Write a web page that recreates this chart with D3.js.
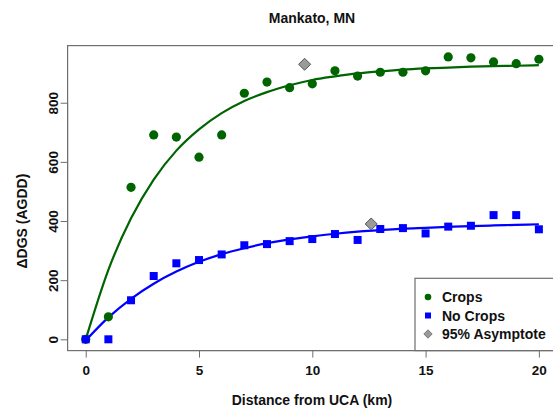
<!DOCTYPE html>
<html>
<head>
<meta charset="utf-8">
<script src="https://cdn.jsdelivr.net/npm/d3@7"></script>
<style>
  html, body { margin: 0; padding: 0; background: #fff; }
  svg { display: block; }
  text { font-family: "Liberation Sans", Arial, Helvetica, sans-serif; font-weight: bold; fill: #111; }
</style>
</head>
<body>
<svg id="chart" width="553" height="409"></svg>
<script>
// Distance from the urban core (km)
const distances = [0,1,2,3,4,5,6,7,8,9,10,11,12,13,14,15,16,17,18,19,20];

// Observed change in growing season (AGDD)
const cropsValues   = [0,76,514,691,684,616,691,832,870,851,864,908,890,903,903,908,955,952,938,932,947];
const noCropsValues = [0,0,132,214,257,268,287,318,322,332,339,356,336,373,376,358,381,384,420,420,372];

// Fitted saturation curves, sampled at each km
const cropsFit   = [0,235,409,540,638,710,765,806,836,859,877,889,899,906,912,916,919,922,924,925,927];
const noCropsFit = [-4,74,137,188,229,262,288,308,325,338,348,357,364,369,374,377,380,383,385,387,389];

// 95% asymptote markers: [distance, AGDD]
const asymptotes = [[9.66, 930], [12.6, 390]];

const xTicks = [0, 5, 10, 15, 20];
const yTicks = [0, 200, 400, 600, 800];

const legendItems = ["Crops", "No Crops", "95% Asymptote"];

const green = "#006400", blue = "#0000ff", grey = "#9a9a9a", frame = "#6f6f6f";

const svg = d3.select("#chart");

// Data ranges padded by 4% on each side
const pad = (e) => { const d = (e[1] - e[0]) * 0.04; return [e[0] - d, e[1] + d]; };
const x = d3.scaleLinear().domain(pad([0, 20])).range([67.6, 557]);
const y = d3.scaleLinear().domain(pad([0, 955])).range([350.6, 45.6]);

// plot frame
svg.append("rect")
  .attr("x", x.range()[0]).attr("y", y.range()[1])
  .attr("width", x.range()[1] - x.range()[0])
  .attr("height", y.range()[0] - y.range()[1])
  .attr("fill", "none").attr("stroke", frame).attr("stroke-width", 1.2);

// x axis
const xAxis = svg.append("g").attr("transform", `translate(0,${y.range()[0]})`)
  .call(d3.axisBottom(x).tickValues(xTicks).tickSize(7).tickPadding(8).tickFormat(d3.format("d")));
xAxis.select(".domain").attr("d", `M${x(0)},0H${x(20)}`).attr("stroke", frame);
xAxis.selectAll(".tick line").attr("stroke", frame);
xAxis.selectAll(".tick text").attr("font-size", 13.5).attr("font-family", null).attr("fill", "#111");

// y axis with labels running along the axis
const yAxis = svg.append("g").attr("transform", `translate(${x.range()[0]},0)`)
  .call(d3.axisLeft(y).tickValues(yTicks).tickSize(7).tickFormat(d3.format("d")));
yAxis.select(".domain").attr("d", `M0,${y(0)}V${y(800)}`).attr("stroke", frame);
yAxis.selectAll(".tick line").attr("stroke", frame);
yAxis.selectAll(".tick text")
  .attr("font-size", 13.5).attr("font-family", null).attr("fill", "#111")
  .attr("x", null)
  .attr("text-anchor", "middle")
  .attr("transform", "translate(-14,0) rotate(-90)")
  .attr("dy", "0.35em");

// titles
svg.append("text").attr("x", 312).attr("y", 23).attr("text-anchor", "middle")
  .attr("font-size", 14).text("Mankato, MN");
svg.append("text").attr("x", 312).attr("y", 405).attr("text-anchor", "middle")
  .attr("font-size", 14).text("Distance from UCA (km)");
svg.append("text").attr("transform", `translate(27,${(y(0) + y(800)) / 2}) rotate(-90)`)
  .attr("text-anchor", "middle").attr("font-size", 14).text("\u0394DGS (AGDD)");

// fitted curves
const line = d3.line().x((d, i) => x(distances[i])).y(d => y(d)).curve(d3.curveMonotoneX);
svg.append("path").datum(cropsFit).attr("d", line)
  .attr("fill", "none").attr("stroke", green).attr("stroke-width", 2.2);
svg.append("path").datum(noCropsFit).attr("d", line)
  .attr("fill", "none").attr("stroke", blue).attr("stroke-width", 2.2);

// observations: crops first, no-crops squares drawn over them
svg.append("g").selectAll("circle").data(cropsValues).join("circle")
  .attr("cx", (d, i) => x(distances[i])).attr("cy", d => y(d))
  .attr("r", 4.6).attr("fill", green);
svg.append("g").selectAll("rect").data(noCropsValues).join("rect")
  .attr("x", (d, i) => x(distances[i]) - 4).attr("y", d => y(d) - 4)
  .attr("width", 8).attr("height", 8).attr("fill", blue);

// asymptote diamonds
const diamond = (cx, cy, h) => `M${cx},${cy - h}L${cx + h},${cy}L${cx},${cy + h}L${cx - h},${cy}Z`;
svg.append("g").selectAll("path").data(asymptotes).join("path")
  .attr("d", d => diamond(x(d[0]), y(d[1]), 6))
  .attr("fill", grey).attr("stroke", "#555").attr("stroke-width", 1);

// legend (bottom-right)
const lg = svg.append("g");
lg.append("rect").attr("x", 415).attr("y", 278.3).attr("width", 160).attr("height", y.range()[0] - 278.3)
  .attr("fill", "#fff").attr("stroke", frame).attr("stroke-width", 1.2);
const rows = [297, 315.5, 334];
lg.append("circle").attr("cx", 428).attr("cy", rows[0]).attr("r", 3.3).attr("fill", green);
lg.append("rect").attr("x", 425).attr("y", rows[1] - 3).attr("width", 6).attr("height", 6).attr("fill", blue);
lg.append("path").attr("d", diamond(428, rows[2], 4.2)).attr("fill", grey).attr("stroke", "#666").attr("stroke-width", 0.8);
lg.selectAll("text").data(legendItems).join("text")
  .attr("x", 442).attr("y", (d, i) => rows[i]).attr("dy", "0.36em")
  .attr("font-size", 14).text(d => d);
</script>
</body>
</html>
